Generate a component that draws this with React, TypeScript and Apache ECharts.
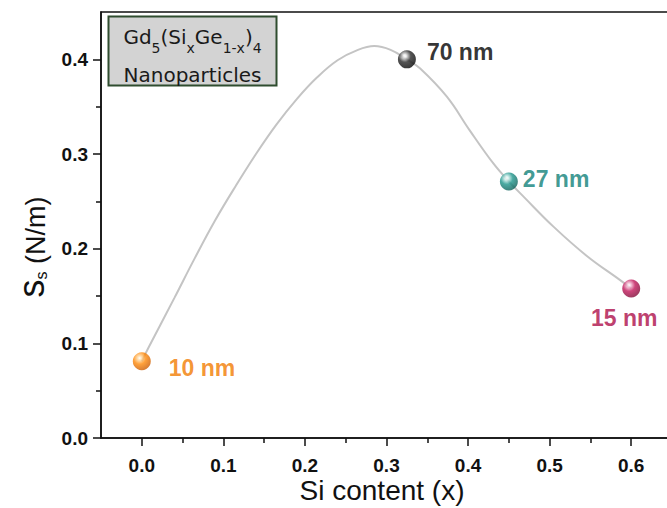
import React, { useEffect, useRef } from "react";
import * as echarts from "echarts";

// ---- data ----
const pointX = [0.0, 0.325, 0.45, 0.6];
const pointY = [0.081, 0.4, 0.271, 0.158];
const pointLabels = ["10 nm", "70 nm", "27 nm", "15 nm"];

const curveX = [0.0, 0.008, 0.04, 0.065, 0.09, 0.115, 0.14, 0.165, 0.19, 0.215, 0.24, 0.265, 0.285, 0.305, 0.325, 0.341, 0.374, 0.402, 0.431, 0.45, 0.468, 0.505, 0.546, 0.586, 0.6];
const curveY = [0.081, 0.095, 0.148, 0.19, 0.23, 0.266, 0.3, 0.331, 0.358, 0.381, 0.399, 0.41, 0.414, 0.41, 0.4, 0.3905, 0.3605, 0.325, 0.29, 0.271, 0.255, 0.223, 0.192, 0.167, 0.158];

const xTicks = [0.0, 0.1, 0.2, 0.3, 0.4, 0.5, 0.6];
const xMinorTicks = [0.05, 0.15, 0.25, 0.35, 0.45, 0.55];
const yTicks = [0.0, 0.1, 0.2, 0.3, 0.4];
const yMinorTicks = [0.05, 0.15, 0.25, 0.35];

const xName = "Si content (x)";
const boxLine2 = "Nanoparticles";

// ---- styles ----
const ballStyles = [
  { light: "#ffe0b0", base: "#ff8a0a", dark: "#c45500", text: "#f27a00" },
  { light: "#e8e8e8", base: "#2a2a2a", dark: "#000000", text: "#000000" },
  { light: "#d8f2ef", base: "#1f968c", dark: "#0a5a53", text: "#0f8078" },
  { light: "#f7c9dc", base: "#c2185b", dark: "#7a0833", text: "#ad0c48" },
];
const labelPlacement = [
  { position: "right", offset: [18, 7] },
  { position: "right", offset: [11, -7] },
  { position: "right", offset: [5, -2] },
  { position: "bottom", offset: [-7, 9] },
];

const AX = "#111111";
const tickFont = { fontSize: 19, fontWeight: "bold", fontFamily: "Liberation Sans, Arial, sans-serif", color: AX };

export default function App() {
  const ref = useRef<HTMLDivElement>(null);
  useEffect(() => {
    if (!ref.current) return;
    const chart = echarts.init(ref.current, null, { renderer: "svg" });

    const scatterData = pointX.map((x, i) => ({
      value: [x, pointY[i]],
      name: pointLabels[i],
      itemStyle: {
        color: {
          type: "radial",
          x: 0.38,
          y: 0.32,
          r: 0.75,
          colorStops: [
            { offset: 0, color: "#ffffff" },
            { offset: 0.12, color: ballStyles[i].light },
            { offset: 0.45, color: ballStyles[i].base },
            { offset: 1, color: ballStyles[i].dark },
          ],
        },
      },
      label: {
        show: true,
        formatter: "{b}",
        position: labelPlacement[i].position,
        offset: labelPlacement[i].offset,
        distance: 0,
        color: ballStyles[i].text,
        fontSize: 23,
        fontWeight: "bold",
        fontFamily: "Liberation Sans, Arial, sans-serif",
      },
    }));

    const curveData = curveX.map((x, i) => [x, curveY[i]]);

    const option: any = {
      animation: false,
      backgroundColor: "#ffffff",
      grid: {
        left: 101,
        top: 12,
        right: -5,
        bottom: 70,
        show: true,
        borderColor: AX,
        borderWidth: 1.5,
        containLabel: false,
        outerBoundsMode: "none",
      },
      xAxis: [
        {
          type: "value",
          min: -0.05,
          max: 0.65,
          position: "bottom",
          axisLine: { show: true, onZero: false, lineStyle: { color: AX, width: 1.5 } },
          axisTick: { show: true, inside: false, length: 8, customValues: xTicks, lineStyle: { color: AX, width: 1.5 } },
          axisLabel: { show: true, customValues: xTicks, margin: 18, lineHeight: 19, formatter: (v: number) => v.toFixed(1), ...tickFont },
          splitLine: { show: false },
        },
        {
          type: "value",
          min: -0.05,
          max: 0.65,
          position: "bottom",
          axisLine: { show: false, onZero: false },
          axisTick: { show: true, inside: false, length: 5, customValues: xMinorTicks, lineStyle: { color: AX, width: 1.5 } },
          axisLabel: { show: false },
          splitLine: { show: false },
        },
      ],
      yAxis: [
        {
          type: "value",
          min: 0,
          max: 0.45,
          position: "left",
          axisLine: { show: true, onZero: false, lineStyle: { color: AX, width: 1.5 } },
          axisTick: { show: true, inside: false, length: 8, customValues: yTicks, lineStyle: { color: AX, width: 1.5 } },
          axisLabel: { show: true, customValues: yTicks, margin: 13, formatter: (v: number) => v.toFixed(1), ...tickFont },
          splitLine: { show: false },
        },
        {
          type: "value",
          min: 0,
          max: 0.45,
          position: "left",
          axisLine: { show: false, onZero: false },
          axisTick: { show: true, inside: false, length: 5, customValues: yMinorTicks, lineStyle: { color: AX, width: 1.5 } },
          axisLabel: { show: false },
          splitLine: { show: false },
        },
      ],
      series: [
        {
          type: "line",
          xAxisIndex: 0,
          yAxisIndex: 0,
          data: curveData,
          smooth: 0.4,
          showSymbol: false,
          symbol: "none",
          lineStyle: { color: "#c4c4c4", width: 2 },
          z: 2,
          silent: true,
        },
        {
          type: "scatter",
          xAxisIndex: 0,
          yAxisIndex: 0,
          data: scatterData,
          symbol: "circle",
          symbolSize: 18,
          z: 5,
        },
      ],
      graphic: [
        {
          type: "rect",
          shape: { x: 108.5, y: 16.5, width: 168, height: 69 },
          style: { fill: "#d3d3d3", stroke: "#2f4d2f", lineWidth: 2 },
          z: 10,
        },
        {
          type: "text",
          x: 192.5,
          y: 36.5,
          z: 11,
          style: {
            text: "{m|Gd}{s|5}{m|(Si}{s|x}{m|Ge}{s|1-x}{m|)}{s|4}",
            align: "center",
            verticalAlign: "middle",
            fill: "#1a1a1a",
            rich: {
              m: { fontSize: 20, fontFamily: "DejaVu Sans", color: "#1a1a1a", lineHeight: 36, verticalAlign: "middle" },
              s: { fontSize: 14, fontFamily: "DejaVu Sans", color: "#1a1a1a", lineHeight: 12, verticalAlign: "bottom" },
            },
          },
        },
        {
          type: "text",
          x: 192.5,
          y: 75,
          z: 11,
          style: {
            text: boxLine2,
            align: "center",
            verticalAlign: "middle",
            fill: "#1a1a1a",
            fontSize: 20,
            fontFamily: "DejaVu Sans",
          },
        },
        {
          type: "text",
          x: 382,
          y: 490,
          style: {
            text: xName,
            align: "center",
            verticalAlign: "middle",
            fill: AX,
            fontSize: 28,
            lineHeight: 24,
            fontFamily: "Liberation Sans, Arial, sans-serif",
          },
        },
        {
          type: "text",
          x: 31,
          y: 247,
          rotation: Math.PI / 2,
          style: {
            text: "{m|s}{s|s}{n| (N/m)}",
            align: "center",
            verticalAlign: "middle",
            fill: AX,
            rich: {
              m: { fontSize: 36, fontFamily: "Liberation Sans, Arial, sans-serif", color: AX, lineHeight: 36, verticalAlign: "bottom" },
              s: { fontSize: 16, fontFamily: "Liberation Sans, Arial, sans-serif", color: AX, lineHeight: 16, verticalAlign: "bottom" },
              n: { fontSize: 27, fontFamily: "Liberation Sans, Arial, sans-serif", color: AX, lineHeight: 27, verticalAlign: "bottom" },
            },
          },
        },
      ],
    };

    chart.setOption(option);
    return () => chart.dispose();
  }, []);

  return (
    <div
      ref={ref}
      style={{ position: "fixed", left: 0, top: 0, width: 667, height: 508, background: "#ffffff" }}
    />
  );
}
